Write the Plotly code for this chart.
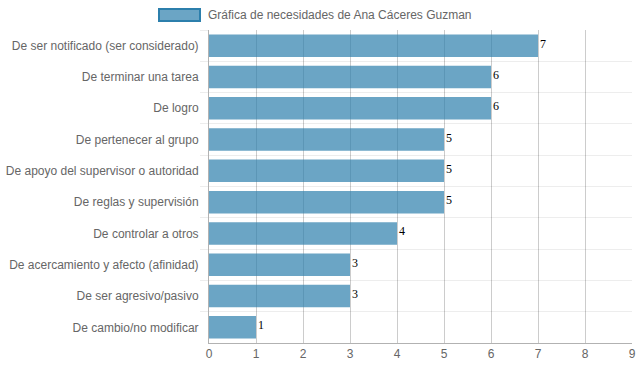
import plotly.graph_objects as go

categories = [
    "De ser notificado (ser considerado)",
    "De terminar una tarea",
    "De logro",
    "De pertenecer al grupo",
    "De apoyo del supervisor o autoridad",
    "De reglas y supervisión",
    "De controlar a otros",
    "De acercamiento y afecto (afinidad)",
    "De ser agresivo/pasivo",
    "De cambio/no modificar",
]
values = [7, 6, 6, 5, 5, 5, 4, 3, 3, 1]
series_name = "Gráfica de necesidades de Ana Cáceres Guzman"
x_ticks = list(range(0, 10))

W, H = 639, 372
ML, MR, MT, MB = 209, 7, 30, 29
pw, ph = W - ML - MR, H - MT - MB

def px(x):
    return (x - ML) / pw

def py(y):
    return (H - MB - y) / ph

pos = list(range(len(categories)))
fill = "rgba(44,127,172,0.7)"
border = "rgb(44,127,172)"

fig = go.Figure(go.Bar(
    x=values, y=pos, orientation="h", width=0.72,
    marker=dict(color=fill, line=dict(width=0)),
    name=series_name, showlegend=False, hoverinfo="x+y",
))

# value labels right at the bar ends
for v, p in zip(values, pos):
    fig.add_annotation(x=v, y=p, xref="x", yref="y", text=str(v), showarrow=False,
                       xanchor="left", yanchor="middle", xshift=0, yshift=2,
                       font=dict(family="Liberation Serif", size=12, color="#000"))

fig.update_layout(
    width=W, height=H,
    margin=dict(l=ML, r=MR, t=MT, b=MB, autoexpand=False),
    paper_bgcolor="white", plot_bgcolor="white",
    font=dict(family="Liberation Sans, Arial", size=12, color="#666"),
    xaxis=dict(range=[0, 9], tickvals=x_ticks, showgrid=True, automargin=False,
               gridcolor="rgba(0,0,0,0.2)", gridwidth=1, zeroline=False,
               showline=True, linecolor="rgba(0,0,0,0.3)", linewidth=1,
               ticks="", ticklen=0, tickfont=dict(size=12, color="#666")),
    yaxis=dict(range=[len(categories) - 0.5, -0.5], tickvals=pos, ticktext=categories,
               showgrid=False, zeroline=False, showline=True, automargin=False,
               linecolor="rgba(0,0,0,0.3)", linewidth=1, ticks="",
               ticklabelstandoff=7,
               minor=dict(tickvals=[i - 0.5 for i in range(len(categories))],
                          showgrid=True, gridcolor="rgba(0,0,0,0.07)", gridwidth=1,
                          ticks="outside", ticklen=8, tickcolor="rgba(0,0,0,0.07)"),
               tickfont=dict(size=12, color="#666")),
    bargap=0.28,
)

# legend drawn as a box + text (Chart.js style)
fig.add_shape(type="rect", xref="paper", yref="paper",
              x0=px(159), x1=px(200), y0=py(21), y1=py(9),
              fillcolor=fill, line=dict(color=border, width=2))
fig.add_annotation(xref="paper", yref="paper", x=px(206), y=py(15),
                   xanchor="left", yanchor="middle", showarrow=False,
                   text=series_name, font=dict(size=12, color="#666"))

fig.write_html("out.html", config={"displayModeBar": False},
               post_script="document.body.style.margin='0';")
